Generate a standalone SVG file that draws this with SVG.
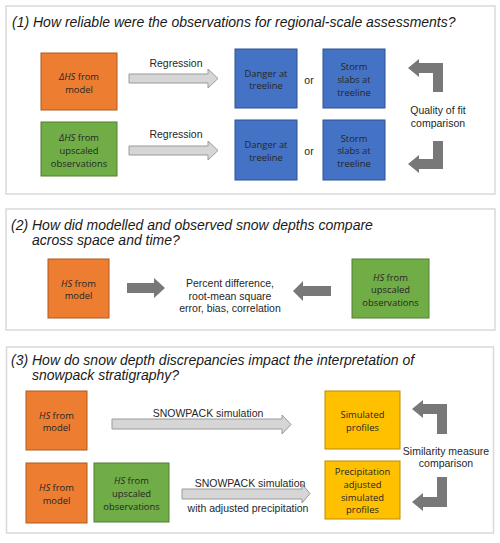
<svg xmlns="http://www.w3.org/2000/svg" width="500" height="543" viewBox="0 0 500 543">
<style>
.panel{fill:#fff;stroke:#d9d9d9;stroke-width:1.5}
.title{font-family:"Liberation Sans",Arial,sans-serif;font-style:italic;font-size:14px;fill:#1a1a1a}
.lbl{font-family:"Liberation Sans",Arial,sans-serif;font-size:10.5px;fill:#262626;text-anchor:middle}
.bt{font-family:"Open Sans","Noto Sans",sans-serif;font-size:9.4px;fill:#262626;text-anchor:middle}
.it{font-style:italic}
.org{fill:#ed7d31;stroke:#ae5a21;stroke-width:1}
.grn{fill:#70ad47;stroke:#507e32;stroke-width:1}
.blu{fill:#4472c4;stroke:#2f528f;stroke-width:1}
.yel{fill:#ffc000;stroke:#bc8c00;stroke-width:1}
.la{fill:#d6d6d6;stroke:#9a9a9a;stroke-width:1}
.da{fill:#787878}
</style>
<rect width="500" height="543" fill="#fff"/>
<g id="panel1">
<rect class="panel" x="6" y="6" width="489" height="188"/>
<text class="title" x="12" y="26.5">(1) How reliable were the observations for regional-scale assessments?</text>
</g>
<g id="panel2">
<rect class="panel" x="6" y="209" width="489" height="121"/>
<text class="title" x="11" y="230">(2) How did modelled and observed snow depths compare</text>
<text class="title" x="32" y="245">across space and time?</text>
</g>
<g id="panel3">
<rect class="panel" x="6.5" y="347" width="487" height="186"/>
<text class="title" x="11" y="365">(3) How do snow depth discrepancies impact the interpretation of</text>
<text class="title" x="32" y="379.5">snowpack stratigraphy?</text>
</g>

<g id="p1-model">
<rect class="org" x="41" y="53" width="76" height="57"/>
<text class="bt" x="79" y="79.5"><tspan class="it">ΔHS</tspan> from</text>
<text class="bt" x="79" y="92.5">model</text>
</g>
<g id="p1-obs">
<rect class="grn" x="41" y="122" width="76" height="54"/>
<text class="bt" x="79" y="140.5"><tspan class="it">ΔHS</tspan> from</text>
<text class="bt" x="79" y="153.5">upscaled</text>
<text class="bt" x="79" y="166.5">observations</text>
</g>
<g id="p1-danger1">
<rect class="blu" x="235" y="49" width="62" height="59"/>
<text class="bt" x="266" y="76.5">Danger at</text>
<text class="bt" x="266" y="88.5">treeline</text>
</g>
<g id="p1-storm1">
<rect class="blu" x="323" y="49" width="62" height="59"/>
<text class="bt" x="354" y="69.5">Storm</text>
<text class="bt" x="354" y="82.5">slabs at</text>
<text class="bt" x="354" y="95.5">treeline</text>
</g>
<g id="p1-danger2">
<rect class="blu" x="235" y="120" width="62" height="60"/>
<text class="bt" x="266" y="147.5">Danger at</text>
<text class="bt" x="266" y="160.5">treeline</text>
</g>
<g id="p1-storm2">
<rect class="blu" x="323" y="120" width="62" height="60"/>
<text class="bt" x="354" y="141.5">Storm</text>
<text class="bt" x="354" y="153.5">slabs at</text>
<text class="bt" x="354" y="166.5">treeline</text>
</g>

<g id="p2-model">
<rect class="org" x="48" y="259" width="61" height="59"/>
<text class="bt" x="78.5" y="286.5"><tspan class="it">HS</tspan> from</text>
<text class="bt" x="78.5" y="298.5">model</text>
</g>
<g id="p2-metrics">
<text class="lbl" x="230" y="287">Percent difference,</text>
<text class="lbl" x="230" y="299.5">root-mean square</text>
<text class="lbl" x="230" y="312">error, bias, correlation</text>
</g>
<g id="p2-obs">
<rect class="grn" x="352" y="259" width="77" height="59"/>
<text class="bt" x="390.5" y="280.5"><tspan class="it">HS</tspan> from</text>
<text class="bt" x="390.5" y="292.5">upscaled</text>
<text class="bt" x="390.5" y="305.5">observations</text>
</g>

<g id="p3-model1">
<rect class="org" x="26" y="391" width="61" height="59"/>
<text class="bt" x="56.5" y="418.5"><tspan class="it">HS</tspan> from</text>
<text class="bt" x="56.5" y="430.5">model</text>
</g>
<g id="p3-sim">
<rect class="yel" x="325" y="391" width="75" height="58"/>
<text class="bt" x="362.5" y="417.5">Simulated</text>
<text class="bt" x="362.5" y="430.5">profiles</text>
</g>
<g id="p3-model2">
<rect class="org" x="26" y="463" width="61" height="60"/>
<text class="bt" x="56.5" y="490.5"><tspan class="it">HS</tspan> from</text>
<text class="bt" x="56.5" y="503.5">model</text>
</g>
<g id="p3-obs">
<rect class="grn" x="94" y="463" width="75" height="59"/>
<text class="bt" x="131.5" y="483.5"><tspan class="it">HS</tspan> from</text>
<text class="bt" x="131.5" y="496.5">upscaled</text>
<text class="bt" x="131.5" y="509.5">observations</text>
</g>
<g id="p3-adjsim">
<rect class="yel" x="325" y="461" width="75" height="58"/>
<text class="bt" x="362.5" y="474.5">Precipitation</text>
<text class="bt" x="362.5" y="487.5">adjusted</text>
<text class="bt" x="362.5" y="500.5">simulated</text>
<text class="bt" x="362.5" y="512.5">profiles</text>
</g>

<g id="connectors">
<path class="la" d="M129,74 H208 V69 L218,78.5 L208,88 V83 H129 Z"/>
<text class="lbl" x="176" y="67">Regression</text>
<path class="la" d="M129,146 H208 V141 L218,150.5 L208,160 V155 H129 Z"/>
<text class="lbl" x="176" y="138">Regression</text>
<text class="lbl" x="309" y="83.5">or</text>
<text class="lbl" x="309" y="154.5">or</text>
<path class="da" d="M408,68 L419,59 V63 H443 V92 H433 V73 H419 V77 Z"/>
<path class="da" d="M408,164 L419,155 V159 H433 V141 H443 V169 H419 V173 Z"/>
<text class="lbl" x="438" y="114">Quality of fit</text>
<text class="lbl" x="438" y="127">comparison</text>

<path class="da" d="M127,283 H154 V278 L165,288 L154,298 V293 H127 Z"/>
<path class="da" d="M331,286 H303 V281 L293,291 L303,301 V296 H331 Z"/>

<path class="la" d="M112,419 H282 V415 L291,424.5 L282,434 V429 H112 Z"/>
<text class="lbl" x="208" y="417">SNOWPACK simulation</text>
<path class="la" d="M182,489 H302 V484 L310,493.5 L302,503 V499 H182 Z"/>
<text class="lbl" x="250" y="487">SNOWPACK simulation</text>
<text class="lbl" x="248" y="512">with adjusted precipitation</text>
<path class="da" d="M412,409 L423,400 V404 H447 V434 H437 V414 H423 V418 Z"/>
<path class="da" d="M412,502 L423,493 V497 H437 V477 H447 V507 H423 V511 Z"/>
<text class="lbl" x="446" y="455">Similarity measure</text>
<text class="lbl" x="446" y="467">comparison</text>
</g>
</svg>
